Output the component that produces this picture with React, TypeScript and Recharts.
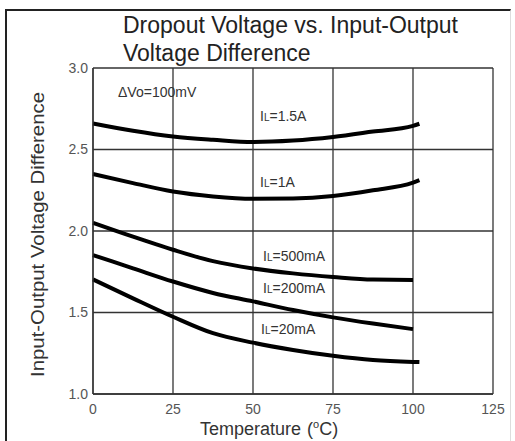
import React from "react";
import { LineChart, Line, XAxis, YAxis, CartesianGrid } from "recharts";

const FONT = "'Liberation Sans', Arial, Helvetica, sans-serif";

const xTicks = [0, 25, 50, 75, 100, 125];
const yTicks = [1.0, 1.5, 2.0, 2.5, 3.0];

const tempsLong = [0, 12.5, 25, 37.5, 50, 62.5, 75, 87.5, 100, 102];
const tempsShort = [0, 12.5, 25, 37.5, 50, 62.5, 75, 87.5, 100];

const il1p5A = [2.66, 2.615, 2.58, 2.56, 2.546, 2.555, 2.577, 2.61, 2.645, 2.658];
const il1A = [2.35, 2.294, 2.242, 2.212, 2.198, 2.2, 2.215, 2.25, 2.297, 2.312];
const il500mA = [2.05, 1.965, 1.885, 1.815, 1.77, 1.74, 1.718, 1.702, 1.7];
const il200mA = [1.852, 1.771, 1.69, 1.62, 1.568, 1.515, 1.47, 1.432, 1.398];
const il20mA = [1.703, 1.587, 1.474, 1.373, 1.315, 1.27, 1.234, 1.208, 1.197, 1.196];

const toSeries = (xs: number[], ys: number[]) => xs.map((t, i) => ({ t, v: ys[i] }));

const series = [
  { name: "IL=1.5A", data: toSeries(tempsLong, il1p5A) },
  { name: "IL=1A", data: toSeries(tempsLong, il1A) },
  { name: "IL=500mA", data: toSeries(tempsShort, il500mA) },
  { name: "IL=200mA", data: toSeries(tempsShort, il200mA) },
  { name: "IL=20mA", data: toSeries(tempsLong, il20mA) },
];

const curveLabels = [
  { value: "1.5A", x: 260, y: 121 },
  { value: "1A", x: 260, y: 187 },
  { value: "500mA", x: 263, y: 261 },
  { value: "200mA", x: 263, y: 293 },
  { value: "20mA", x: 261, y: 334 },
];

export default function App() {
  return (
    <div style={{ position: "absolute", left: 0, top: 0, width: 515, height: 441, background: "#fff" }}>
      <div
        style={{
          position: "absolute",
          left: 5,
          top: 9,
          width: 506,
          height: 432,
          boxSizing: "border-box",
          borderTop: "2px solid #222",
          borderLeft: "2px solid #222",
          borderRight: "1px solid #ddd",
        }}
      />
      <div style={{ position: "absolute", left: 0, top: 0 }}>
        <LineChart
          width={515}
          height={441}
          margin={{ top: 68, right: 22, bottom: 0, left: 0 }}
        >
          <CartesianGrid stroke="#333" strokeWidth={1.3} />
          <XAxis
            type="number"
            dataKey="t"
            domain={[0, 125]}
            ticks={xTicks}
            height={47}
            tickSize={0}
            tickMargin={10}
            axisLine={{ stroke: "#333", strokeWidth: 1.3 }}
            tick={{ fill: "#555", fontSize: 14, fontFamily: FONT }}
            allowDuplicatedCategory={false}
          />
          <YAxis
            type="number"
            domain={[1, 3]}
            ticks={yTicks}
            width={93}
            tickSize={0}
            tickMargin={5}
            tickFormatter={(v: number) => v.toFixed(1)}
            axisLine={{ stroke: "#333", strokeWidth: 1.3 }}
            tick={{ fill: "#555", fontSize: 14, fontFamily: FONT }}
          />
          {series.map((s) => (
            <Line
              key={s.name}
              data={s.data}
              dataKey="v"
              type="monotone"
              stroke="#000"
              strokeWidth={4}
              dot={false}
              activeDot={false}
              isAnimationActive={false}
            />
          ))}
        </LineChart>
      </div>
      <svg
        width={515}
        height={441}
        style={{ position: "absolute", left: 0, top: 0, pointerEvents: "none" }}
        fontFamily={FONT}
      >
        <text x={123} y={33} fontSize={23} fill="#222">Dropout Voltage vs. Input-Output</text>
        <text x={123} y={61} fontSize={23} fill="#222">Voltage Difference</text>
        <text
          x={44}
          y={234.5}
          fontSize={18}
          fill="#333"
          textAnchor="middle"
          textLength={285}
          lengthAdjust="spacingAndGlyphs"
          transform="rotate(-90, 44, 234.5)"
        >
          Input-Output Voltage Difference
        </text>
        <text x={200} y={435} fontSize={18} fill="#333">
          Temperature<tspan dx={6}>(</tspan>
          <tspan fontSize={11} dy={-7}>o</tspan>
          <tspan dy={7}>C)</tspan>
        </text>
        <text x={118} y={97} fontSize={14} fill="#333">ΔVo=100mV</text>
        {curveLabels.map((l) => (
          <text key={l.value} x={l.x} y={l.y} fontSize={14} fill="#333">
            I<tspan fontSize={10}>L</tspan>={l.value}
          </text>
        ))}
      </svg>
    </div>
  );
}
